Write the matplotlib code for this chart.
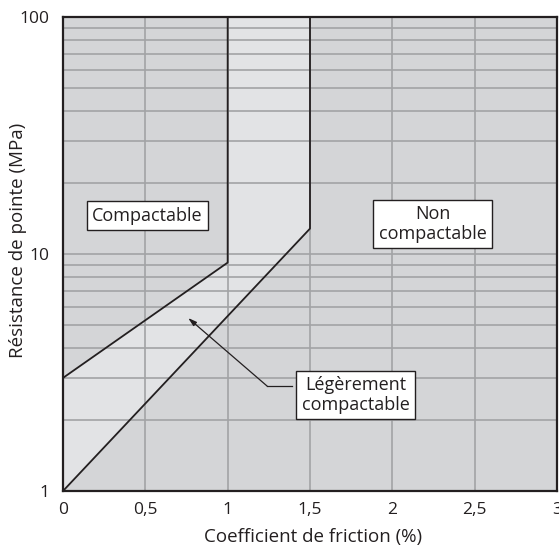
import matplotlib
matplotlib.use("Agg")
import matplotlib.pyplot as plt
from matplotlib.ticker import FixedLocator, NullFormatter

plt.rcParams['font.family'] = ['Open Sans', 'DejaVu Sans']

# Limites des zones (coefficient de friction %, résistance de pointe MPa)
x_upper = [0.0, 1.0, 1.0]
y_upper = [3.0, 9.2, 100.0]
x_lower = [0.0, 1.5, 1.5]
y_lower = [1.0, 12.8, 100.0]

x_ticks = [0, 0.5, 1, 1.5, 2, 2.5, 3]
x_ticklabels = ["0", "0,5", "1", "1,5", "2", "2,5", "3"]
y_ticks = [1, 10, 100]
y_ticklabels = ["1", "10", "100"]

# Étiquettes des zones : (texte, x, y)
labels = [
    ("Compactable", 0.513, 14.5),
    ("Non\ncompactable", 2.246, 13.4),
    ("Légèrement\ncompactable", 1.776, 2.54),
]
arrow_head = (0.76, 5.37)
arrow_elbow = (1.24, 2.77)
arrow_start = (1.39, 2.77)

dark = "#d4d5d7"
light = "#e2e3e5"
grid_c = "#a2a3a5"
ink = "#231f20"

fig = plt.figure(figsize=(5.59, 5.49), dpi=100)
ax = fig.add_axes([63 / 559, 1 - 491 / 549, (557 - 63) / 559, (491 - 17) / 549])
ax.set_facecolor(dark)
ax.set_yscale("log")
ax.set_xlim(0, 3)
ax.set_ylim(1, 100)

# zone légèrement compactable
ax.fill(x_upper + x_lower[::-1], y_upper + y_lower[::-1], color=light, zorder=1, lw=0)

# grille
minor = [m * 10 ** d for d in (0, 1) for m in range(2, 10)]
ax.yaxis.set_minor_locator(FixedLocator(minor))
ax.yaxis.set_minor_formatter(NullFormatter())
ax.set_xticks(x_ticks)
ax.set_xticklabels(x_ticklabels)
ax.set_yticks(y_ticks)
ax.set_yticklabels(y_ticklabels)
ax.grid(True, which="both", color=grid_c, lw=1.2, zorder=2)
ax.set_axisbelow(False)
ax.tick_params(which="both", length=0, labelsize=12.5, colors=ink)
ax.tick_params(axis="x", pad=8)
ax.tick_params(axis="y", pad=10)

ax.plot(x_upper, y_upper, color=ink, lw=1.3, zorder=3)
ax.plot(x_lower, y_lower, color=ink, lw=1.3, zorder=3)

for s in ax.spines.values():
    s.set_color(ink)
    s.set_linewidth(1.6)
    s.set_zorder(4)

for txt, x, y in labels:
    ax.text(x, y, txt, ha="center", va="center", fontsize=13, color=ink,
            linespacing=1.1, zorder=5,
            bbox=dict(boxstyle="square,pad=0.3", fc="white", ec=ink, lw=1.0))

# flèche vers la zone légèrement compactable
ax.plot([arrow_start[0], arrow_elbow[0]], [arrow_start[1], arrow_elbow[1]],
        color=ink, lw=0.9, zorder=3)
ax.annotate("", xy=arrow_head, xytext=arrow_elbow, zorder=3,
            arrowprops=dict(arrowstyle="-|>,head_length=0.5,head_width=0.15",
                            color=ink, lw=0.9, shrinkA=0, shrinkB=0))

ax.set_xlabel("Coefficient de friction (%)", fontsize=13.5, color=ink)
ax.xaxis.set_label_coords((313 - 63) / 494, (491 - 537) / 474)
ax.set_ylabel("Résistance de pointe (MPa)", fontsize=13.5, color=ink)
ax.yaxis.set_label_coords((18 - 63) / 494, (491 - 240) / 474)
ax.xaxis.label.set_va("center")
ax.yaxis.label.set_va("center")

fig.savefig("out.png", dpi=100)
